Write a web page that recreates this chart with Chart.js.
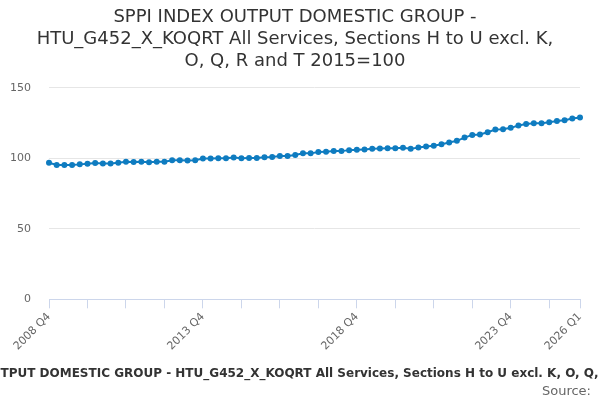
<!DOCTYPE html>
<html>
<head>
<meta charset="utf-8">
<script src="https://cdn.jsdelivr.net/npm/chart.js@4/dist/chart.umd.min.js"></script>
<style>
  html, body { margin: 0; padding: 0; background: #fff; }
  #wrap { width: 600px; height: 400px; }
</style>
</head>
<body>
<div id="wrap"><canvas id="chart"></canvas></div>
<script>
// quarters 2008 Q4 .. 2026 Q1
var quarters = []
for (var y = 2008; y <= 2026; y++) {
    for (var q = 1; q <= 4; q++) {
        if (y == 2008 && q < 4) continue
        if (y == 2026 && q > 1) continue
        quarters.push(y + ' Q' + q)
    }
}

var indexValues = [
    96.9, 95.3, 95.3, 95.3, 95.7, 96.2, 96.7, 96.4, 96.4, 96.9,
    97.6, 97.4, 97.6, 97.2, 97.6, 97.6, 98.6, 98.6, 98.4, 98.6,
    99.8, 99.8, 100.0, 100.0, 100.5, 100.0, 100.2, 100.2, 100.7, 100.9,
    101.6, 101.6, 102.3, 103.5, 103.5, 104.4, 104.7, 105.1, 105.1, 105.8,
    106.0, 106.3, 106.7, 107.0, 107.2, 107.2, 107.4, 106.7, 107.7, 108.4,
    108.9, 110.0, 111.2, 112.4, 114.7, 116.6, 116.9, 118.5, 120.4, 120.6,
    121.6, 123.2, 124.4, 124.9, 124.9, 125.6, 126.5, 127.0, 128.2, 128.9
]

var yTicks = [0, 50, 100, 150]
var labelledQuarters = ['2008 Q4', '2013 Q4', '2018 Q4', '2023 Q4', '2026 Q1']

var titleText = 'SPPI INDEX OUTPUT DOMESTIC GROUP - HTU_G452_X_KOQRT All Services, Sections H to U excl. K, O, Q, R and T 2015=100'
var titleLines = [
    'SPPI INDEX OUTPUT DOMESTIC GROUP -',
    'HTU_G452_X_KOQRT All Services, Sections H to U excl. K,',
    'O, Q, R and T 2015=100'
]
var sourceText = 'Source:'

var lineColor = '#0f7cc0'
Chart.defaults.font.family = '"DejaVu Sans", sans-serif'

// x-axis title is wider than the canvas and just runs off both sides,
// "Source:" sits under it at the right
const footerPlugin = {
    id: 'footer',
    afterDraw(chart) {
        const ctx = chart.ctx
        ctx.save()
        ctx.textBaseline = 'middle'
        ctx.font = 'bold 12px "DejaVu Sans", sans-serif'
        ctx.fillStyle = '#333'
        ctx.textAlign = 'center'
        ctx.fillText(titleText, 313, 374)
        ctx.font = '13px "DejaVu Sans", sans-serif'
        ctx.fillStyle = '#666'
        ctx.textAlign = 'right'
        ctx.fillText(sourceText, 591, 392)
        ctx.restore()
    }
}

const config = {
    type: 'line',
    data: {
        labels: quarters,
        datasets: [{
            data: indexValues,
            borderColor: lineColor,
            backgroundColor: lineColor,
            borderWidth: 2,
            pointRadius: 2,
            pointHoverRadius: 2,
            tension: 0
        }]
    },
    options: {
        responsive: true,
        maintainAspectRatio: false,
        animation: false,
        layout: {
            padding: { left: 10, right: 20, top: 0, bottom: 45 }
        },
        plugins: {
            legend: { display: false },
            tooltip: { enabled: false },
            title: {
                display: true,
                text: titleLines,
                color: '#333',
                font: { size: 18, weight: 'normal' },
                lineHeight: 1.2,
                padding: { top: 7, bottom: 16 }
            }
        },
        scales: {
            x: {
                offset: false,
                border: { color: '#ccd6eb' },
                grid: {
                    drawOnChartArea: false,
                    color: '#ccd6eb',
                    tickLength: 9
                },
                afterFit: function (scale) {
                    scale.paddingLeft = 0
                    scale.paddingRight = 0
                },
                ticks: {
                    autoSkip: false,
                    maxRotation: 45,
                    minRotation: 45,
                    color: '#666',
                    font: { size: 11 },
                    padding: 2,
                    callback: function (val, i) {
                        var lab = quarters[i]
                        if (labelledQuarters.indexOf(lab) >= 0) return lab
                        if (i % 5 == 0) return ''
                        return null
                    }
                }
            },
            y: {
                min: 0,
                max: 150,
                border: { display: false },
                grid: { color: '#e6e6e6', drawTicks: false },
                afterBuildTicks: function (axis) {
                    axis.ticks = yTicks.map(v => ({ value: v }))
                },
                afterFit: function (axis) {
                    axis.width = 39
                },
                ticks: {
                    color: '#666',
                    font: { size: 11 },
                    padding: 18
                }
            }
        }
    },
    plugins: [footerPlugin]
}

new Chart(document.getElementById('chart'), config)
</script>
</body>
</html>
